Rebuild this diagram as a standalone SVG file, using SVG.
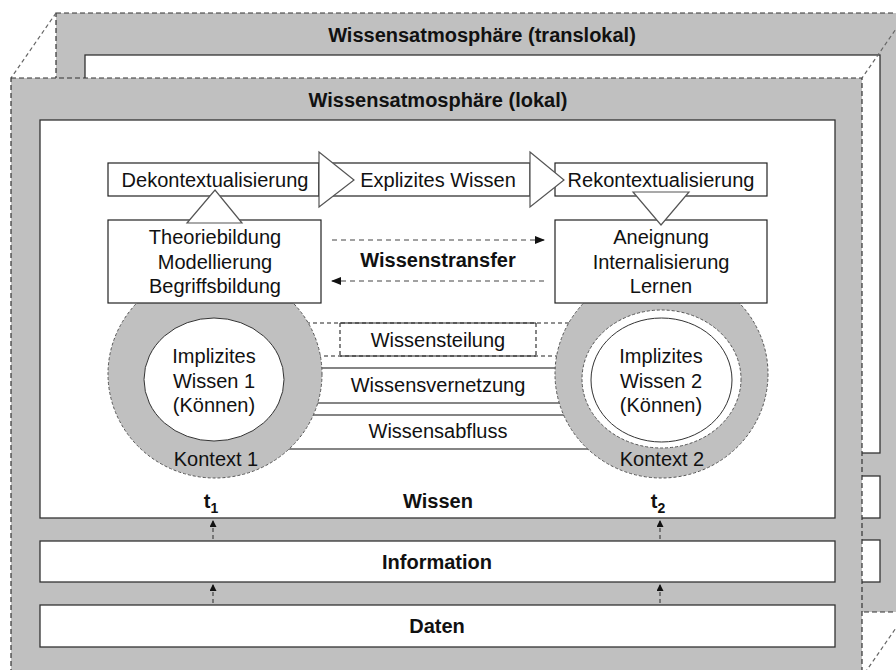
<svg xmlns="http://www.w3.org/2000/svg" width="896" height="670" viewBox="0 0 896 670">
  <defs>
    <style>
      .frame { fill: #c0c0c0; stroke: #333; stroke-width: 1.2; stroke-dasharray: 5 3; }
      .edge { fill: none; stroke: #666; stroke-width: 1.2; stroke-dasharray: 4 3; }
      .panel { fill: #fff; stroke: #333; stroke-width: 1.3; }
      .box { fill: #fff; stroke: #222; stroke-width: 1.2; }
      .band { fill: #fff; stroke: #222; stroke-width: 1.1; }
      .dashband { fill: #fff; stroke: #222; stroke-width: 1.1; stroke-dasharray: 4 3; }
      .solid { fill: none; stroke: #222; stroke-width: 1.1; }
      .bigarrow { fill: #fff; stroke: #555; stroke-width: 1.2; }
      .context { fill: #c0c0c0; stroke: #555; stroke-width: 1; stroke-dasharray: 3 2; }
      .ring { fill: #fff; stroke: #555; stroke-width: 1; stroke-dasharray: 3 2; }
      .core { fill: #fff; stroke: #333; stroke-width: 1; }
      .flow { fill: none; stroke: #444; stroke-width: 1.2; stroke-dasharray: 5 4; }
      .rise { fill: none; stroke: #444; stroke-width: 1.2; stroke-dasharray: 4 3; }
      text { font-family: "Liberation Sans", Arial, sans-serif; font-size: 20px; fill: #111; text-anchor: middle; }
      .b { font-weight: bold; }
    </style>
    <marker id="head" markerWidth="10" markerHeight="8" refX="9" refY="4" orient="auto" markerUnits="userSpaceOnUse">
      <path d="M0,0 L10,4 L0,8 Z" fill="#111"/>
    </marker>
    <marker id="smallhead" markerWidth="7" markerHeight="8" refX="7" refY="3.5" orient="auto" markerUnits="userSpaceOnUse">
      <path d="M0,0 L7,3.5 L0,7 Z" fill="#111"/>
    </marker>
  </defs>

  <!-- translocal atmosphere (rear layer) -->
  <g id="atmosphere-translokal">
    <rect class="frame" x="56" y="13" width="851" height="599"/>
    <rect class="panel" x="85" y="55" width="795" height="398"/>
    <rect class="panel" x="85" y="476" width="795" height="42"/>
    <rect class="panel" x="85" y="540" width="795" height="42"/>
    <text class="b" x="482" y="42">Wissensatmosphäre (translokal)</text>
  </g>

  <!-- depth edges joining the two layers -->
  <g id="depth-edges">
    <line class="edge" x1="56" y1="13" x2="11" y2="78"/>
    <line class="edge" x1="907" y1="13" x2="862" y2="78"/>
    <line class="edge" x1="907" y1="612" x2="862" y2="677"/>
  </g>

  <!-- local atmosphere (front layer) -->
  <g id="atmosphere-lokal">
    <rect class="frame" x="11" y="78" width="851" height="599"/>
    <text class="b" x="438" y="107">Wissensatmosphäre (lokal)</text>
  </g>

  <g id="wissen">
    <rect class="panel" x="40" y="120" width="795" height="398"/>
    <text class="b" x="438" y="508">Wissen</text>
  </g>
  <g id="information">
    <rect class="panel" x="40" y="541" width="795" height="41"/>
    <text class="b" x="437" y="569">Information</text>
  </g>
  <g id="daten">
    <rect class="panel" x="40" y="605" width="795" height="42"/>
    <text class="b" x="437" y="633">Daten</text>
  </g>

  <!-- exchange bands between the two contexts -->
  <g id="wissensteilung">
    <rect class="dashband" x="215" y="323" width="446" height="33"/>
    <path class="solid" d="M340,323 H536 M340,356 H536"/>
    <path class="dashband" d="M340,323 V356 M536,323 V356"/>
    <text x="438" y="347">Wissensteilung</text>
  </g>
  <g id="wissensvernetzung">
    <rect class="band" x="215" y="368" width="446" height="35"/>
    <text x="438" y="392">Wissensvernetzung</text>
  </g>
  <g id="wissensabfluss">
    <rect class="band" x="215" y="415" width="446" height="34"/>
    <text x="438" y="438">Wissensabfluss</text>
  </g>

  <g id="kontext-1">
    <ellipse class="context" cx="215" cy="374" rx="107" ry="104"/>
    <ellipse class="core" cx="214" cy="379.5" rx="70" ry="61.5"/>
    <text x="214" y="363">Implizites</text>
    <text x="214" y="388">Wissen 1</text>
    <text x="214" y="412">(Können)</text>
    <text x="216" y="466">Kontext 1</text>
  </g>
  <g id="kontext-2">
    <ellipse class="context" cx="661.5" cy="374" rx="106.5" ry="104"/>
    <ellipse class="ring" cx="661.5" cy="379" rx="79.5" ry="69"/>
    <ellipse class="core" cx="661.5" cy="380" rx="70.5" ry="62"/>
    <text x="661" y="363">Implizites</text>
    <text x="661" y="388">Wissen 2</text>
    <text x="661" y="412">(Können)</text>
    <text x="662" y="466">Kontext 2</text>
  </g>

  <g id="theoriebildung">
    <rect class="box" x="108" y="220" width="213" height="83"/>
    <text x="215" y="244">Theoriebildung</text>
    <text x="215" y="269">Modellierung</text>
    <text x="215" y="293">Begriffsbildung</text>
  </g>
  <g id="aneignung">
    <rect class="box" x="555" y="220" width="212" height="83"/>
    <text x="661" y="244">Aneignung</text>
    <text x="661" y="269">Internalisierung</text>
    <text x="661" y="293">Lernen</text>
  </g>

  <g id="dekontextualisierung">
    <rect class="box" x="108" y="163" width="211" height="33"/>
    <text x="215" y="187">Dekontextualisierung</text>
  </g>
  <g id="explizites-wissen">
    <rect class="box" x="319" y="163" width="211" height="33"/>
    <text x="438" y="187">Explizites Wissen</text>
  </g>
  <g id="rekontextualisierung">
    <rect class="box" x="555" y="163" width="212" height="33"/>
    <text x="661" y="187">Rekontextualisierung</text>
  </g>

  <!-- connectors -->
  <g id="connectors">
    <polygon class="bigarrow" points="319,152 354,180 319,207"/>
    <polygon class="bigarrow" points="530,152 564,180 530,207"/>
    <polygon class="bigarrow" points="187,223 242,223 215,190"/>
    <polygon class="bigarrow" points="633,192 689,192 661,225"/>
    <line class="flow" x1="332" y1="240" x2="544" y2="240" marker-end="url(#head)"/>
    <line class="flow" x1="544" y1="281" x2="332" y2="281" marker-end="url(#head)"/>
    <line class="rise" x1="213" y1="539" x2="213" y2="520" marker-end="url(#smallhead)"/>
    <line class="rise" x1="213" y1="603" x2="213" y2="584" marker-end="url(#smallhead)"/>
    <line class="rise" x1="660" y1="539" x2="660" y2="520" marker-end="url(#smallhead)"/>
    <line class="rise" x1="660" y1="603" x2="660" y2="584" marker-end="url(#smallhead)"/>
  </g>

  <g id="wissenstransfer">
    <text class="b" x="438" y="267">Wissenstransfer</text>
  </g>
  <g id="zeitpunkte">
    <text class="b" x="211" y="508">t<tspan font-size="14" dy="5">1</tspan></text>
    <text class="b" x="658" y="508">t<tspan font-size="14" dy="5">2</tspan></text>
  </g>
</svg>
